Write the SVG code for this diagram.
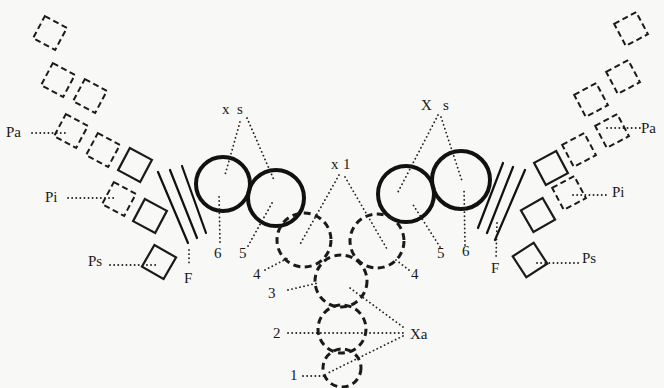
<svg xmlns="http://www.w3.org/2000/svg" width="664" height="388" viewBox="0 0 664 388">
<style>
.bg{fill:#f8f8f7}
.sq{fill:none;stroke:#1a1a1a;stroke-width:2.2}
.dsq{fill:none;stroke:#1a1a1a;stroke-width:2;stroke-dasharray:6 3.5}
.big{fill:none;stroke:#111;stroke-width:4}
.dc{fill:none;stroke:#1a1a1a;stroke-width:3;stroke-dasharray:7 4.5}
.hatch{stroke:#111;stroke-width:2.2;stroke-linecap:round}
.dot{fill:none;stroke:#222;stroke-width:1.8;stroke-linecap:round;stroke-dasharray:0.1 4}
.lbl{font-family:"Liberation Serif",serif;font-size:15px;fill:#1a1a1a}
</style>
<defs>
<rect id="s" x="-12.5" y="-12.5" width="25" height="25"/>
</defs>
<rect class="bg" x="0" y="0" width="664" height="388"/>

<g id="left-plates">
<use href="#s" class="dsq" transform="translate(50,33) rotate(28)"/>
<use href="#s" class="dsq" transform="translate(58,80) rotate(28)"/>
<use href="#s" class="dsq" transform="translate(90,96) rotate(28)"/>
<use href="#s" class="dsq" transform="translate(71,131) rotate(28)"/>
<use href="#s" class="dsq" transform="translate(103,150) rotate(28)"/>
<use href="#s" class="sq" transform="translate(135,165) rotate(28)"/>
<use href="#s" class="dsq" transform="translate(119,199) rotate(28)"/>
<use href="#s" class="sq" transform="translate(150,216) rotate(28)"/>
<use href="#s" class="sq" transform="translate(159,262) rotate(30)"/>
</g>

<g id="right-plates">
<use href="#s" class="dsq" transform="translate(631,29) rotate(-28)"/>
<use href="#s" class="dsq" transform="translate(623,77) rotate(-28)"/>
<use href="#s" class="dsq" transform="translate(591,100) rotate(-28)"/>
<use href="#s" class="dsq" transform="translate(612,131) rotate(-28)"/>
<use href="#s" class="dsq" transform="translate(579,150) rotate(-28)"/>
<use href="#s" class="sq" transform="translate(551,168) rotate(-28)"/>
<use href="#s" class="dsq" transform="translate(569,193) rotate(-28)"/>
<use href="#s" class="sq" transform="translate(538,215) rotate(-30)"/>
<use href="#s" class="sq" transform="translate(530,260) rotate(-33)"/>
</g>

<g id="left-F">
<line class="hatch" x1="158" y1="172" x2="188" y2="243"/>
<line class="hatch" x1="170" y1="170" x2="197" y2="238"/>
<line class="hatch" x1="182" y1="166" x2="206" y2="233"/>
</g>
<g id="right-F">
<line class="hatch" x1="503" y1="163" x2="478" y2="228"/>
<line class="hatch" x1="513" y1="167" x2="487" y2="233"/>
<line class="hatch" x1="525" y1="170" x2="495" y2="240"/>
</g>

<g id="left-xs">
<circle class="big" cx="223" cy="184" r="27"/>
<circle class="big" cx="276" cy="198" r="28"/>
</g>
<g id="right-xs">
<circle class="big" cx="406" cy="194" r="28"/>
<circle class="big" cx="461" cy="180" r="29"/>
</g>

<g id="x1">
<circle class="dc" cx="304" cy="240" r="27"/>
<circle class="dc" cx="377" cy="241" r="27"/>
</g>
<g id="xa">
<circle class="dc" cx="341" cy="281" r="26"/>
<circle class="dc" cx="342" cy="329" r="24"/>
<circle class="dc" cx="342" cy="368" r="19"/>
</g>

<g id="connectors">
<line class="dot" x1="32" y1="133" x2="68" y2="133"/>
<line class="dot" x1="68" y1="198" x2="116" y2="198"/>
<line class="dot" x1="110" y1="265" x2="158" y2="265"/>
<line class="dot" x1="189" y1="250" x2="189" y2="264"/>
<line class="dot" x1="607" y1="128" x2="640" y2="128"/>
<line class="dot" x1="573" y1="195" x2="609" y2="195"/>
<line class="dot" x1="537" y1="263" x2="580" y2="263"/>
<line class="dot" x1="497" y1="223" x2="496" y2="259"/>
<line class="dot" x1="240" y1="122" x2="225" y2="175"/>
<line class="dot" x1="247" y1="118" x2="274" y2="180"/>
<line class="dot" x1="220" y1="242" x2="219" y2="194"/>
<line class="dot" x1="248" y1="246" x2="272" y2="203"/>
<line class="dot" x1="438" y1="115" x2="398" y2="192"/>
<line class="dot" x1="441" y1="117" x2="462" y2="181"/>
<line class="dot" x1="440" y1="247" x2="412" y2="203"/>
<line class="dot" x1="465" y1="245" x2="464" y2="188"/>
<line class="dot" x1="339" y1="175" x2="299" y2="246"/>
<line class="dot" x1="345" y1="177" x2="387" y2="249"/>
<line class="dot" x1="265" y1="270" x2="290" y2="257"/>
<line class="dot" x1="409" y1="270" x2="396" y2="260"/>
<line class="dot" x1="288" y1="290" x2="318" y2="283"/>
<line class="dot" x1="288" y1="333" x2="405" y2="333"/>
<line class="dot" x1="403" y1="327" x2="350" y2="288"/>
<line class="dot" x1="403" y1="336" x2="328" y2="373"/>
<line class="dot" x1="303" y1="376" x2="326" y2="376"/>
</g>

<g id="labels">
<text class="lbl" x="6" y="137">Pa</text>
<text class="lbl" x="45" y="202">Pi</text>
<text class="lbl" x="88" y="266">Ps</text>
<text class="lbl" x="184" y="283">F</text>
<text class="lbl" x="222" y="114">x<tspan x="237">s</tspan></text>
<text class="lbl" x="214" y="258">6</text>
<text class="lbl" x="239" y="258">5</text>
<text class="lbl" x="253" y="279">4</text>
<text class="lbl" x="268" y="298">3</text>
<text class="lbl" x="273" y="338">2</text>
<text class="lbl" x="290" y="380">1</text>
<text class="lbl" x="331" y="169">x<tspan x="343">1</tspan></text>
<text class="lbl" x="421" y="110">X<tspan x="443">s</tspan></text>
<text class="lbl" x="437" y="258">5</text>
<text class="lbl" x="462" y="256">6</text>
<text class="lbl" x="411" y="279">4</text>
<text class="lbl" x="410" y="339">Xa</text>
<text class="lbl" x="641" y="133">Pa</text>
<text class="lbl" x="612" y="197">Pi</text>
<text class="lbl" x="582" y="263">Ps</text>
<text class="lbl" x="491" y="273">F</text>
</g>
</svg>
